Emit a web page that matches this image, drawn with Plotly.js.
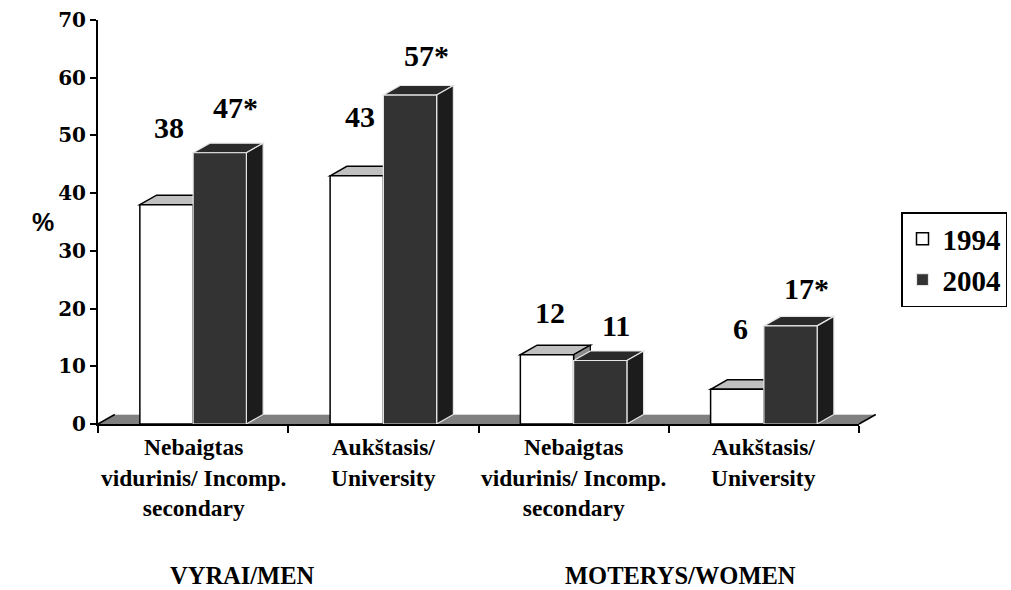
<!DOCTYPE html>
<html>
<head>
<meta charset="utf-8">
<script src="https://cdn.plot.ly/plotly-3.0.1.min.js"></script>
<style>html,body{margin:0;padding:0;background:#fff;}#chart{width:1011px;height:590px;}</style>
</head>
<body>
<div id="chart"></div>
<script>
// ---- data ----
const categories = ['Nebaigtas<br>vidurinis/ Incomp.<br>secondary', 'Aukštasis/<br>University', 'Nebaigtas<br>vidurinis/ Incomp.<br>secondary', 'Aukštasis/<br>University'];
const groupNames = ['VYRAI/MEN', 'MOTERYS/WOMEN'];
const seriesNames = ['1994', '2004'];
const values1994 = [38, 43, 12, 6];
const values2004 = [47, 57, 11, 17];
const labels1994 = ['38', '43', '12', '6'];
const labels2004 = ['47*', '57*', '11', '17*'];
const yTickVals = [0, 10, 20, 30, 40, 50, 60, 70];

// ---- layout constants ----
const idx = categories.map((_, i) => i);
const XR = [-0.5, 3.5], YR = [0, 70];
const W = 0.28, DX = 0.088, DY = 1.65;
const lift1994 = [13.3, 10.2, 7.4, 10.6];
const lift2004 = [7.8, 6.9, 6.0, 6.4];
const groupX = [0.262, 2.56];
const serif = 'Liberation Serif';
const X = v => (v - XR[0]) / (XR[1] - XR[0]);
const Y = v => (v - YR[0]) / (YR[1] - YR[0]);
const poly = pts => 'M ' + pts.map(p => p[0] + ',' + p[1]).join(' L ') + ' Z';

const traces = [
  {type: 'bar', name: seriesNames[0], x: idx, y: values1994, width: W, offset: -W,
   marker: {color: '#ffffff', line: {color: '#000000', width: 1.5}}, legendgroup: 'a', hoverinfo: 'y'},
  {type: 'bar', name: seriesNames[1], x: idx, y: values2004, width: W, offset: 0,
   marker: {color: '#333333', line: {color: '#e6e6e6', width: 1.2}}, legendgroup: 'b', hoverinfo: 'y'}
];

const shapes = [];
// floor (paper refs so its slanted end is not clipped)
shapes.push({type: 'path', xref: 'paper', yref: 'paper', layer: 'below',
  path: poly([[X(XR[0]), Y(0)], [X(XR[0] + DX), Y(DY)], [X(XR[1] + DX), Y(DY)], [X(XR[1]), Y(0)]]),
  fillcolor: '#808080', line: {width: 0}});
shapes.push({type: 'path', xref: 'paper', yref: 'paper', layer: 'below',
  path: 'M ' + X(XR[0] + DX) + ',' + Y(DY) + ' L ' + X(XR[1] + DX) + ',' + Y(DY),
  line: {color: '#d8d8d8', width: 1}});
shapes.push({type: 'path', xref: 'paper', yref: 'paper', layer: 'below',
  path: 'M ' + X(XR[0]) + ',' + Y(0) + ' L ' + X(XR[0] + DX) + ',' + Y(DY),
  line: {color: '#000000', width: 1.5}});
shapes.push({type: 'path', xref: 'paper', yref: 'paper', layer: 'above',
  path: 'M ' + X(XR[1]) + ',' + Y(0) + ' L ' + X(XR[1] + DX) + ',' + Y(DY),
  line: {color: '#000000', width: 1.5}});

idx.forEach(i => {
  const v1 = values1994[i], v2 = values2004[i];
  const a0 = i - W, a1 = i, b0 = i, b1 = i + W;
  shapes.push({type: 'path', xref: 'x', yref: 'y', layer: 'below',
    path: poly([[a0, v1], [a0 + DX, v1 + DY], [a1 + DX, v1 + DY], [a1, v1]]),
    fillcolor: '#c0c0c0', line: {color: '#000000', width: 1.5}});
  shapes.push({type: 'path', xref: 'x', yref: 'y', layer: 'below',
    path: poly([[a1, 0], [a1 + DX, DY], [a1 + DX, v1 + DY], [a1, v1]]),
    fillcolor: '#8c8c8c', line: {color: '#000000', width: 1.2}});
  shapes.push({type: 'path', xref: 'x', yref: 'y', layer: 'below',
    path: poly([[b0, v2], [b0 + DX, v2 + DY], [b1 + DX, v2 + DY], [b1, v2]]),
    fillcolor: '#2a2a2a', line: {color: '#e6e6e6', width: 1.2}});
  shapes.push({type: 'path', xref: 'x', yref: 'y', layer: 'below',
    path: poly([[b1, 0], [b1 + DX, DY], [b1 + DX, v2 + DY], [b1, v2]]),
    fillcolor: '#1c1c1c', line: {color: '#e6e6e6', width: 1.2}});
});

const annotations = [];
idx.forEach(i => {
  annotations.push({xref: 'x', yref: 'y', x: i - W / 2, y: values1994[i] + lift1994[i], xshift: 3,
    text: '<b>' + labels1994[i] + '</b>', showarrow: false, font: {family: serif, size: 30, color: '#000'}});
  annotations.push({xref: 'x', yref: 'y', x: i + W / 2, y: values2004[i] + lift2004[i], xshift: 16,
    text: '<b>' + labels2004[i] + '</b>', showarrow: false, font: {family: serif, size: 30, color: '#000'}});
  annotations.push({xref: 'x', yref: 'paper', x: i, y: 0, yshift: -8, yanchor: 'top', xanchor: 'center',
    text: '<b>' + categories[i].split('<br>').join('</b><br><b>') + '</b>', showarrow: false, align: 'center',
    font: {family: serif, size: 23.5, color: '#000'}});
});
groupNames.forEach((g, k) => {
  annotations.push({xref: 'x', yref: 'paper', x: groupX[k], y: 0, yshift: -151, yanchor: 'middle',
    text: '<b>' + g + '</b>', showarrow: false, font: {family: serif, size: 24.5, color: '#000'}});
});
annotations.push({xref: 'paper', yref: 'paper', x: (30 - 98) / 761, y: (424 - 222) / 404,
  text: '<b>%</b>', showarrow: false, font: {family: 'Liberation Sans', size: 25, color: '#000'}});

const layout = {
  width: 1011, height: 590,
  margin: {l: 98, r: 152, t: 20, b: 166, autoexpand: false},
  paper_bgcolor: '#ffffff', plot_bgcolor: 'rgba(0,0,0,0)',
  barmode: 'overlay',
  showlegend: true,
  legend: {x: (901 - 98) / 761, y: (424 - 212) / 404, xanchor: 'left', yanchor: 'top',
    bordercolor: '#000', borderwidth: 1.5, bgcolor: '#fff', tracegroupgap: 8, traceorder: 'normal',
    font: {family: serif, size: 29, color: '#000', weight: 'bold'}},
  xaxis: {range: XR, showgrid: false, zeroline: false, showline: true, linecolor: '#000', linewidth: 2,
    tickmode: 'array', tickvals: [-0.5, 0.5, 1.5, 2.5, 3.5], ticktext: ['', '', '', '', ''],
    ticks: 'outside', ticklen: 7, tickwidth: 2, tickcolor: '#000', fixedrange: true},
  yaxis: {range: YR, showgrid: false, zeroline: false, showline: true, linecolor: '#000', linewidth: 2,
    tickmode: 'array', tickvals: yTickVals, ticktext: yTickVals.map(v => '<b>' + v + '</b>'),
    ticks: 'outside', ticklen: 6, tickwidth: 2, tickcolor: '#000',
    tickfont: {family: 'DejaVu Serif', size: 20, color: '#000'}, fixedrange: true},
  shapes: shapes,
  annotations: annotations
};

Plotly.newPlot('chart', traces, layout, {displayModeBar: false, staticPlot: true});
</script>
</body>
</html>
